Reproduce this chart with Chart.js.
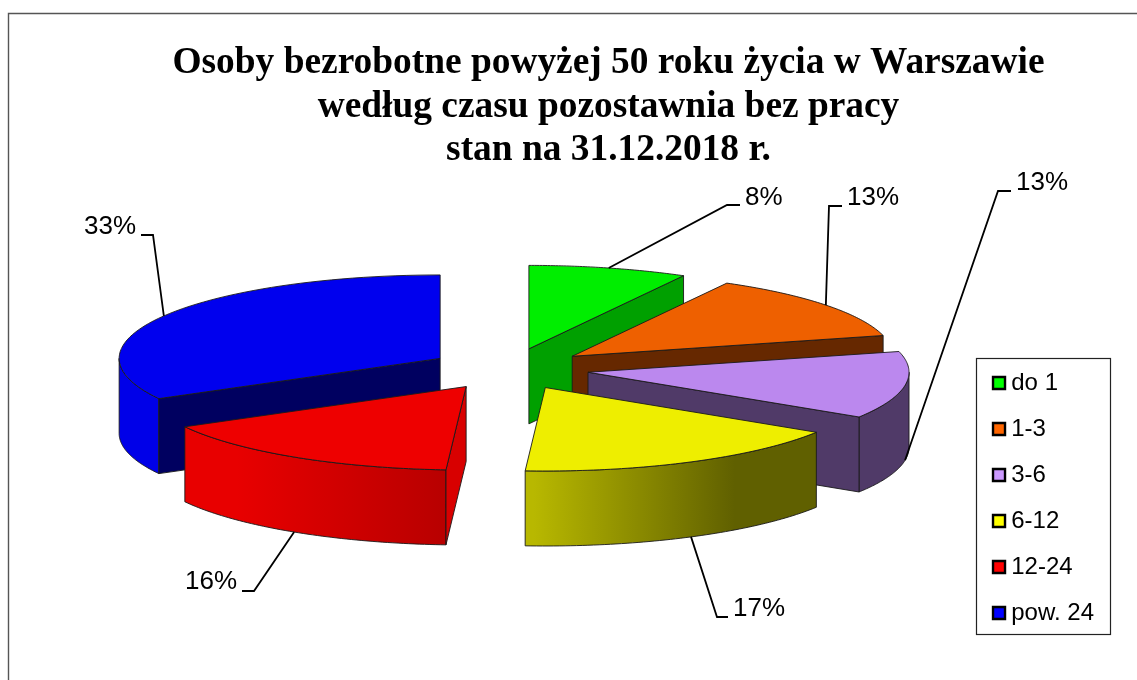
<!DOCTYPE html>
<html lang="pl">
<head>
<meta charset="utf-8">
<title>Osoby bezrobotne powyżej 50 roku życia w Warszawie</title>
<script src="https://cdn.jsdelivr.net/npm/chart.js@4"></script>
<style>
    html, body { margin: 0; padding: 0; background: #fff; }
    canvas { display: block; }
</style>
</head>
<body>
<canvas id="pie-chart" width="1137" height="680"></canvas>
<script>
// Data
const titleLines = [
    'Osoby bezrobotne powyżej 50 roku życia w Warszawie',
    'według czasu pozostawnia bez pracy',
    'stan na 31.12.2018 r.'
];
const categories = ['do 1', '1-3', '3-6', '6-12', '12-24', 'pow. 24'];
const shares = [8, 13, 13, 17, 16, 33];

// Colours
const legendColors = ['#00ff00', '#ff6600', '#cc99ff', '#ffff00', '#ff0000', '#0000ff'];
const topColors = ['#00ee00', '#ee6000', '#bb88ee', '#eeee00', '#ee0000', '#0000ee'];
const cutColors = ['#00a000', '#662800', '#503a68', '#606000', '#d80000', '#000060'];
const wallFrom = ['#00a000', '#662800', '#503a68', '#b8b800', '#e80000', '#0000e8'];
const wallTo = ['#00a000', '#662800', '#503a68', '#606000', '#b80000', '#0000e8'];
const wallFromStop = [0, 0, 0, 0.03, 0.2, 0];
const wallToStop = [1, 1, 1, 0.72, 1, 1];

// 3D look of the pie
const pieCenterX = 509;
const pieCenterY = 369;
const pieRadius = 321;
const pieTilt = 0.26;
const pieDepth = 75;
const pieExplode = 80;
const paintOrder = [0, 1, 2, 5, 4, 3];

// Label leader lines: elbow, end of the line, side the text sits on, text height
const leaders = [
    [[727, 205], [740, 205], 'left', 198],
    [[829, 206], [842, 206], 'left', 198],
    [[998, 191], [1011, 191], 'left', 183],
    [[717, 617], [728, 617], 'left', 609],
    [[254, 591], [242, 591], 'right', 582],
    [[153, 235], [141, 235], 'right', 227]
];

function sliceGeometry(arc) {
    const mid = (arc.startAngle + arc.endAngle) / 2;
    const cx = pieCenterX + Math.cos(mid) * pieExplode;
    const cy = pieCenterY + Math.sin(mid) * pieExplode * pieTilt;
    const at = function(angle, drop) {
        return {
            x: cx + Math.cos(angle) * pieRadius,
            y: cy + Math.sin(angle) * pieRadius * pieTilt + (drop || 0)
        };
    };
    return { mid: mid, cx: cx, cy: cy, at: at };
}

// a cut face only shows when the slice lies above its edge on screen
function cutVisible(angle, mid) {
    const ex = Math.cos(angle), ey = Math.sin(angle) * pieTilt;
    const mx = Math.cos(mid), my = Math.sin(mid) * pieTilt;
    return (ex * my - ey * mx) * ex < 0;
}

function drawCut(ctx, geo, angle, color) {
    const p = geo.at(angle);
    const q = geo.at(angle, pieDepth);
    ctx.beginPath();
    ctx.moveTo(geo.cx, geo.cy);
    ctx.lineTo(p.x, p.y);
    ctx.lineTo(q.x, q.y);
    ctx.lineTo(geo.cx, geo.cy + pieDepth);
    ctx.closePath();
    ctx.fillStyle = color;
    ctx.fill();
    ctx.stroke();
}

function tracePath(ctx, geo, from, to, drop, first) {
    const steps = 60;
    for (let s = 0; s <= steps; s++) {
        const p = geo.at(from + (to - from) * s / steps, drop);
        if (s === 0 && first) ctx.moveTo(p.x, p.y);
        else ctx.lineTo(p.x, p.y);
    }
}

function drawOuterWall(ctx, geo, arc, i) {
    // only the front half of the rim can be seen
    const from = Math.max(arc.startAngle, 0);
    const to = Math.min(arc.endAngle, Math.PI);
    if (to <= from) return;
    const left = geo.at(to), right = geo.at(from);
    const grad = ctx.createLinearGradient(left.x, 0, right.x, 0);
    grad.addColorStop(wallFromStop[i], wallFrom[i]);
    grad.addColorStop(wallToStop[i], wallTo[i]);
    ctx.beginPath();
    tracePath(ctx, geo, from, to, 0, true);
    tracePath(ctx, geo, to, from, pieDepth, false);
    ctx.closePath();
    ctx.fillStyle = grad;
    ctx.fill();
    ctx.stroke();
}

const pie3d = {
    id: 'pie3d',
    beforeDatasetsDraw(chart) {
        const ctx = chart.ctx;
        const arcs = chart.getDatasetMeta(0).data;

        // frame of the picture, only top and left
        ctx.save();
        ctx.strokeStyle = '#555';
        ctx.lineWidth = 1.4;
        ctx.beginPath();
        ctx.moveTo(8.5, 680);
        ctx.lineTo(8.5, 13.5);
        ctx.lineTo(1137, 13.5);
        ctx.stroke();

        // legend frame
        ctx.strokeStyle = '#222';
        ctx.lineWidth = 1.2;
        ctx.strokeRect(976.5, 358.5, 134, 276);
        ctx.restore();

        paintOrder.forEach(function(i) {
            const arc = arcs[i];
            const geo = sliceGeometry(arc);

            ctx.save();
            ctx.lineWidth = 0.9;
            ctx.strokeStyle = '#1a1a1a';
            ctx.lineJoin = 'round';
            drawOuterWall(ctx, geo, arc, i);
            [arc.startAngle, arc.endAngle].forEach(function(angle) {
                if (cutVisible(angle, geo.mid)) drawCut(ctx, geo, angle, cutColors[i]);
            });

            // top of the slice is the library's own arc, squashed
            ctx.save();
            const k = pieRadius / arc.outerRadius;
            ctx.translate(geo.cx, geo.cy);
            ctx.scale(k, k * pieTilt);
            ctx.translate(-arc.x, -arc.y);
            arc.draw(ctx);
            ctx.restore();

            ctx.beginPath();
            ctx.moveTo(geo.cx, geo.cy);
            tracePath(ctx, geo, arc.startAngle, arc.endAngle, 0, false);
            ctx.closePath();
            ctx.stroke();
            ctx.restore();
        });

        // percentage labels with leader lines
        const total = shares.reduce(function(a, b) { return a + b; }, 0);
        arcs.forEach(function(arc, i) {
            const geo = sliceGeometry(arc);
            const front = Math.sin(geo.mid) > 0;
            const start = geo.at(geo.mid, front ? pieDepth : 0);
            const elbow = leaders[i][0], end = leaders[i][1];
            ctx.save();
            ctx.strokeStyle = '#000';
            ctx.lineWidth = 1.8;
            ctx.beginPath();
            ctx.moveTo(start.x, start.y);
            ctx.lineTo(elbow[0], elbow[1]);
            ctx.lineTo(end[0], end[1]);
            ctx.stroke();
            ctx.fillStyle = '#000';
            ctx.font = '26px "Liberation Sans"';
            ctx.textBaseline = 'middle';
            const side = leaders[i][2];
            ctx.textAlign = side;
            const tx = end[0] + (side === 'left' ? 5 : -5);
            ctx.fillText(Math.round(shares[i] / total * 100) + '%', tx, leaders[i][3]);
            ctx.restore();
        });
        return false;
    }
};

document.addEventListener('DOMContentLoaded', function() {
    const ctx = document.getElementById('pie-chart').getContext('2d');
    new Chart(ctx, {
        type: 'pie',
        data: {
            labels: categories,
            datasets: [{
                data: shares,
                backgroundColor: topColors,
                borderWidth: 0
            }]
        },
        options: {
            responsive: false,
            animation: false,
            layout: { padding: { left: 113, right: 33, top: 42, bottom: 33 } },
            plugins: {
                title: {
                    display: true,
                    text: titleLines,
                    color: '#000',
                    font: { family: '"Liberation Serif"', size: 37.4, weight: 'bold', lineHeight: 1.16 },
                    padding: { top: 0, bottom: 10 }
                },
                legend: {
                    position: 'right',
                    align: 'end',
                    labels: {
                        color: '#000',
                        font: { family: '"Liberation Sans"', size: 24 },
                        usePointStyle: true,
                        boxWidth: 0.5,
                        boxHeight: 12,
                        padding: 22,
                        generateLabels: function() {
                            return categories.map(function(name, i) {
                                return {
                                    text: name,
                                    fillStyle: legendColors[i],
                                    strokeStyle: '#000',
                                    lineWidth: 2.4,
                                    pointStyle: 'rect',
                                    index: i
                                };
                            });
                        }
                    }
                },
                tooltip: { enabled: false }
            }
        },
        plugins: [pie3d]
    });
});
</script>
</body>
</html>
